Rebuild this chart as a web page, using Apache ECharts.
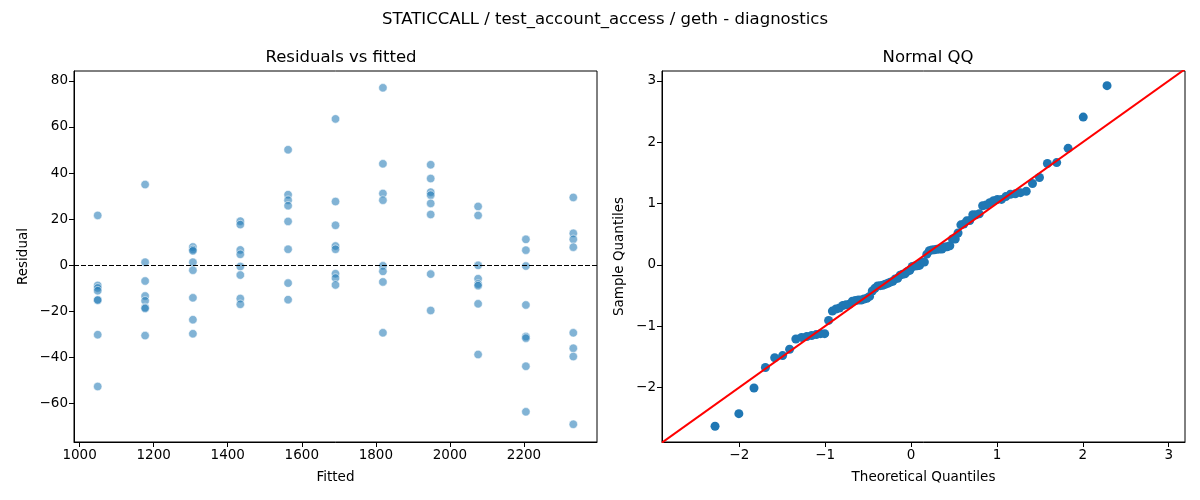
<!DOCTYPE html>
<html>
<head>
<meta charset="utf-8">
<script src="https://cdn.jsdelivr.net/npm/echarts@6/dist/echarts.min.js"></script>
<style>
  html, body { margin: 0; padding: 0; background: #fff; }
  #main { width: 1200px; height: 500px; }
</style>
</head>
<body>
<div id="main"></div>
<script>
// fitted value of each group, and the residuals
var fitted = [1049, 1177, 1306, 1434, 1563, 1691, 1819, 1948, 2076, 2205, 2333];
var residuals = [
  [21.6, -8.8, -9.9, -11.1, -15.0, -15.2, -30.2, -52.7],
  [35.0, 1.3, -6.9, -13.4, -15.5, -18.4, -18.8, -30.6],
  [7.9, 6.8, 6.2, 1.3, -2.2, -14.2, -23.7, -29.8],
  [19.1, 17.6, 6.6, 4.7, -0.6, -4.3, -14.5, -17.0],
  [50.1, 30.6, 28.2, 25.8, 19.0, 6.9, -7.8, -15.0],
  [63.5, 27.6, 17.3, 8.3, 6.9, -3.7, -5.6, -8.6],
  [77.0, 44.0, 31.1, 28.2, -0.3, -2.7, -7.3, -29.4],
  [43.6, 37.6, 31.7, 30.4, 26.8, 22.0, -3.9, -19.7],
  [25.5, 21.6, -0.1, -5.9, -8.2, -8.9, -16.8, -38.8],
  [11.2, 6.5, -0.4, -17.3, -31.0, -31.7, -43.9, -63.7],
  [29.4, 13.8, 11.2, 7.8, -29.4, -36.1, -39.7, -69.1]
];
var fittedTicks = [1000, 1200, 1400, 1600, 1800, 2000, 2200];
var residTicks = [-60, -40, -20, 0, 20, 40, 60, 80];
var qqTicks = [-2, -1, 0, 1, 2, 3];
var refLine = [-2.9, 3.2];

// normal quantile function (Acklam)
function normInv(p) {
  var a = [-3.969683028665376e+01, 2.209460984245205e+02, -2.759285104469687e+02, 1.383577518672690e+02, -3.066479806614716e+01, 2.506628277459239e+00];
  var b = [-5.447609879822406e+01, 1.615858368580409e+02, -1.556989798598866e+02, 6.680131188771972e+01, -1.328068155288572e+01];
  var c = [-7.784894002430293e-03, -3.223964580411365e-01, -2.400758277161838e+00, -2.549732539343734e+00, 4.374664141464968e+00, 2.938163982698783e+00];
  var d = [7.784695709041462e-03, 3.224671290700398e-01, 2.445134137142996e+00, 3.754408661907416e+00];
  var pl = 0.02425, q, r;
  if (p < pl) {
    q = Math.sqrt(-2 * Math.log(p));
    return (((((c[0]*q+c[1])*q+c[2])*q+c[3])*q+c[4])*q+c[5]) / ((((d[0]*q+d[1])*q+d[2])*q+d[3])*q+1);
  }
  if (p > 1 - pl) {
    q = Math.sqrt(-2 * Math.log(1 - p));
    return -(((((c[0]*q+c[1])*q+c[2])*q+c[3])*q+c[4])*q+c[5]) / ((((d[0]*q+d[1])*q+d[2])*q+d[3])*q+1);
  }
  q = p - 0.5; r = q * q;
  return (((((a[0]*r+a[1])*r+a[2])*r+a[3])*r+a[4])*r+a[5])*q / (((((b[0]*r+b[1])*r+b[2])*r+b[3])*r+b[4])*r+1);
}

var scatterData = [];
var all = [];
fitted.forEach(function (f, i) {
  residuals[i].forEach(function (r) {
    scatterData.push([f, r]);
    all.push(r);
  });
});

// qq: standardized sorted residuals against normal quantiles
all.sort(function (a, b) { return a - b; });
var n = all.length;
var mean = all.reduce(function (s, v) { return s + v; }, 0) / n;
var sd = Math.sqrt(all.reduce(function (s, v) { return s + (v - mean) * (v - mean); }, 0) / n);
var qqData = all.map(function (v, i) {
  return [normInv((i + 1) / (n + 1)), (v - mean) / sd];
});

var FONT = 'DejaVu Sans';
function minus(v) { return String(v).replace('-', '\u2212'); }

function axisBase(ticks) {
  return {
    type: 'value',
    splitLine: { show: false },
    axisLine: { show: true, onZero: false, lineStyle: { color: '#000', width: 1 } },
    axisTick: { show: true, length: 5, lineStyle: { color: '#000' }, customValues: ticks },
    axisLabel: { color: '#000', fontFamily: FONT, fontSize: 13.5, margin: 6, formatter: minus, customValues: ticks },
    nameTextStyle: { color: '#000', fontFamily: FONT, fontSize: 13.5 },
    nameLocation: 'middle'
  };
}

var chart = echarts.init(document.getElementById('main'), null, { renderer: 'canvas' });

var option = {
  animation: false,
  backgroundColor: '#fff',
  title: [
    { text: 'STATICCALL / test_account_access / geth - diagnostics', left: 600, top: 6, textAlign: 'center',
      textStyle: { fontFamily: FONT, fontSize: 16.5, fontWeight: 'normal', color: '#000' } },
    { text: 'Residuals vs fitted', left: 336, top: 44, textAlign: 'center',
      textStyle: { fontFamily: FONT, fontSize: 16.5, fontWeight: 'normal', color: '#000' } },
    { text: 'Normal QQ', left: 923, top: 44, textAlign: 'center',
      textStyle: { fontFamily: FONT, fontSize: 16.5, fontWeight: 'normal', color: '#000' } }
  ],
  grid: [
    { left: 74, top: 71, width: 523, height: 371, show: true, borderColor: '#000', borderWidth: 1 },
    { left: 662, top: 71, width: 523, height: 371, show: true, borderColor: '#000', borderWidth: 1 }
  ],
  xAxis: [
    Object.assign(axisBase(fittedTicks), { gridIndex: 0, min: 985, max: 2397, name: 'Fitted', nameGap: 28 }),
    Object.assign(axisBase(qqTicks), { gridIndex: 1, min: -2.9, max: 3.19, name: 'Theoretical Quantiles', nameGap: 28 })
  ],
  yAxis: [
    Object.assign(axisBase(residTicks), { gridIndex: 0, min: -76.8, max: 84.3, name: 'Residual', nameGap: 44 }),
    Object.assign(axisBase(qqTicks), { gridIndex: 1, min: -2.89, max: 3.16, name: 'Sample Quantiles', nameGap: 36 })
  ],
  series: [
    {
      type: 'scatter', xAxisIndex: 0, yAxisIndex: 0,
      data: scatterData, symbolSize: 8.5,
      itemStyle: { color: 'rgba(31,119,180,0.7)', borderColor: '#fff', borderWidth: 0.7 },
      markLine: {
        silent: true, symbol: ['none', 'none'], label: { show: false },
        lineStyle: { color: '#000', type: [5, 2], width: 1 },
        data: [{ yAxis: 0 }]
      },
      z: 3
    },
    {
      type: 'scatter', xAxisIndex: 1, yAxisIndex: 1,
      data: qqData, symbolSize: 9,
      itemStyle: { color: '#1f77b4', opacity: 1 },
      z: 3
    },
    {
      type: 'line', xAxisIndex: 1, yAxisIndex: 1,
      data: refLine.map(function (v) { return [v, v]; }),
      showSymbol: false, symbol: 'none',
      lineStyle: { color: '#ff0000', width: 2 },
      clip: true, z: 4
    }
  ]
};

chart.setOption(option);
</script>
</body>
</html>
